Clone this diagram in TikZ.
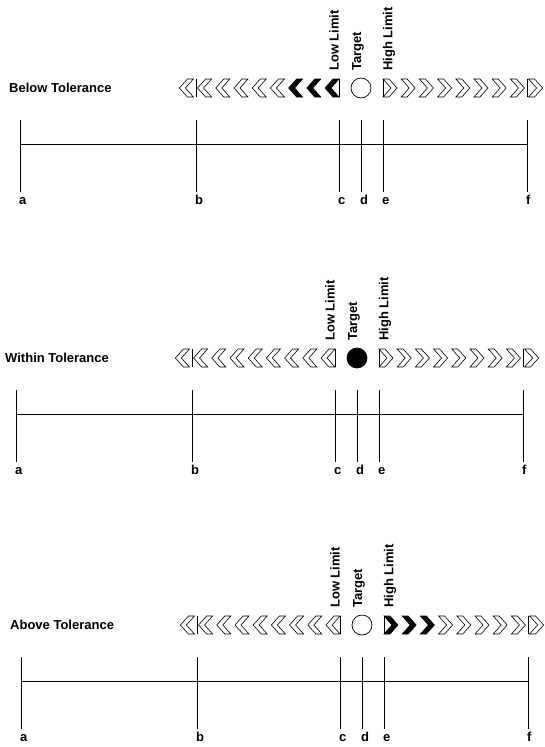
\documentclass[tikz,border=0pt]{standalone}
\usepackage{fontspec}
\setmainfont{Liberation Sans}
\tikzset{
  lbl/.style={font=\bfseries\fontsize{13}{13}\selectfont, inner sep=0pt},
  tickline/.style={line width=0.8pt, draw=black},
  axisline/.style={line width=0.7pt, draw=black},
  chev/.style={line width=0.6pt, draw=black, fill=white, line join=miter},
  chevon/.style={line width=0.6pt, draw=black, fill=black, line join=miter},
  barline/.style={line width=0.9pt, draw=black},
}
% left-pointing chevron: tip at (#1,#2)
\newcommand\chevL[3]{\path[#3] (#1,#2) -- ++(8,-9) -- ++(6,0) -- ++(-8,9) -- ++(8,9) -- ++(-6,0) -- cycle;}
% right-pointing chevron: left edge at #1
\newcommand\chevR[3]{\path[#3] (#1,{#2-9}) -- ++(6,0) -- ++(8,9) -- ++(-8,9) -- ++(-6,0) -- ++(8,-9) -- cycle;}
% #1 id, #2 x shift, #3 row y, #4 title, #5 mode (0 below, 1 within, 2 above)
\newcommand\tolpanel[5]{%
\begin{scope}[shift={(#2,#3)}]
  \node[lbl, anchor=west] (#1-title) at (9,0) {#4};
  % chevrons left of target
  \foreach \i in {0,...,8}{
    \pgfmathtruncatemacro\on{(#5==0)&&(\i>5)}
    \pgfmathsetmacro\xx{325-(8-\i)*18.2}
    \ifnum\on=1 \chevL{\xx}{0}{chevon}\else\chevL{\xx}{0}{chev}\fi
  }
  % chevrons right of target
  \foreach \i in {0,...,8}{
    \pgfmathtruncatemacro\on{(#5==2)&&(\i<3)}
    \pgfmathsetmacro\xx{383+\i*18.2}
    \ifnum\on=1 \chevR{\xx}{0}{chevon}\else\chevR{\xx}{0}{chev}\fi
  }
  % bars in the chevron row
  \foreach \x in {196,339,383,527}{
    \draw[barline] (\x,-9) -- (\x,9);
  }
  % target circle
  \ifnum#5=1
    \node[circle, draw, fill=black, minimum size=20pt, inner sep=0pt, line width=0.7pt] (#1-tgt) at (361,0) {};
  \else
    \node[circle, draw, fill=white, minimum size=20pt, inner sep=0pt, line width=0.7pt] (#1-tgt) at (361,0) {};
  \fi
  % rotated labels
  \node[lbl, rotate=90, anchor=west] (#1-low) at (334,-17) {Low Limit};
  \node[lbl, rotate=90, anchor=west] (#1-tar) at (358,-17) {Target};
  \node[lbl, rotate=90, anchor=west] (#1-high) at (389,-17) {High Limit};
  % scale
  \foreach \n/\x in {a/20,b/196,c/339,d/361,e/383,f/527}{
    \coordinate (#1-\n-top) at (\x,32);
    \coordinate (#1-\n-mid) at (\x,56);
    \coordinate (#1-\n-bot) at (\x,104);
    \draw[tickline] (#1-\n-top) -- (#1-\n-bot);
    \node[lbl, anchor=base west] (#1-\n-lbl) at ({\x-1},116) {\n};
  }
  \draw[axisline] (#1-a-mid) -- (#1-f-mid);
\end{scope}}
\begin{document}
\begin{tikzpicture}[x=1pt, y=-1pt]
  \useasboundingbox[fill=white] (0,0) rectangle (544,747);
  \tolpanel{p1}{0}{88}{Below Tolerance}{0}
  \tolpanel{p2}{-4}{358}{Within Tolerance}{1}
  \tolpanel{p3}{1}{625}{Above Tolerance}{2}
\end{tikzpicture}
\end{document}
